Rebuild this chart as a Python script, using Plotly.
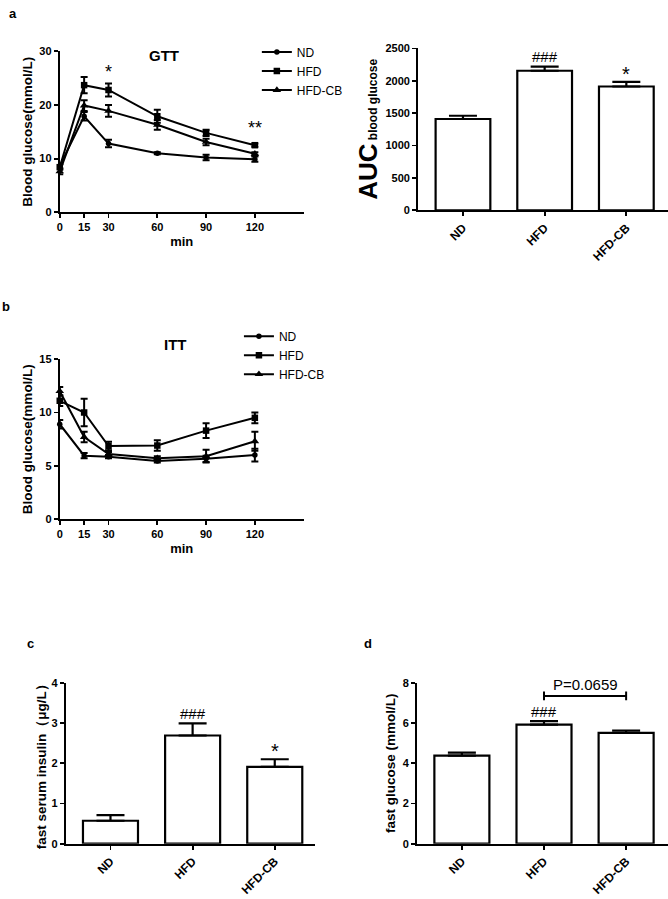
import plotly.graph_objects as go

W, H = 668, 899
FONT = "Liberation Sans, Arial, sans-serif"

# ---------------- data ----------------
time_min = [0, 15, 30, 60, 90, 120]
time_ticks = [0, 15, 30, 60, 90, 120]

gtt_nd = [8.6, 17.9, 12.8, 11.0, 10.2, 9.9]
gtt_nd_err = [0.4, 0.8, 0.7, 0.2, 0.5, 0.5]
gtt_hfd = [8.4, 23.7, 22.8, 17.9, 14.8, 12.5]
gtt_hfd_err = [0.5, 1.5, 1.2, 1.2, 0.6, 0.3]
gtt_cb = [7.6, 19.9, 18.9, 16.3, 13.1, 10.9]
gtt_cb_err = [0.5, 1.0, 1.1, 0.9, 0.6, 0.3]

itt_nd = [8.9, 5.95, 5.85, 5.45, 5.65, 6.0]
itt_nd_err = [0.4, 0.25, 0.15, 0.15, 0.3, 0.6]
itt_hfd = [11.1, 10.0, 6.85, 6.9, 8.3, 9.5]
itt_hfd_err = [0.5, 1.3, 0.4, 0.5, 0.7, 0.5]
itt_cb = [12.0, 7.7, 6.1, 5.7, 5.9, 7.3]
itt_cb_err = [0.4, 0.5, 0.2, 0.2, 0.6, 0.9]

groups = ["ND", "HFD", "HFD-CB"]
auc = [1410, 2155, 1912]
auc_err = [50, 65, 70]
insulin = [0.57, 2.69, 1.91]
insulin_err = [0.14, 0.30, 0.19]
fast_glu = [4.38, 5.92, 5.51]
fast_glu_err = [0.15, 0.18, 0.12]

series_names = ["ND", "HFD", "HFD-CB"]
series_symbols = ["circle", "square", "triangle-up"]
series_sizes = [5.5, 6.5, 7.5]

gtt_marks = [(30, 25.8, "*"), (120, 15.3, "**")]
auc_marks = ["", "###", "*"]
ins_marks = ["", "###", "*"]
glu_marks = ["", "###", ""]
p_label = "P=0.0659"
p_bracket_y = 7.35
p_bracket_tick = 0.22
p_groups = (1, 2)

# ---------------- helpers ----------------
def xd(a, b):
    return [a / W, b / W]

def yd(top, bottom):
    return [1 - bottom / H, 1 - top / H]

fig = go.Figure()

# line panels
line_panels = [
    ("x", "y", [gtt_nd, gtt_hfd, gtt_cb], [gtt_nd_err, gtt_hfd_err, gtt_cb_err], "legend"),
    ("x3", "y3", [itt_nd, itt_hfd, itt_cb], [itt_nd_err, itt_hfd_err, itt_cb_err], "legend2"),
]
for xa, ya, vals, errs, leg in line_panels:
    for name, sym, sz, v, e in zip(series_names, series_symbols, series_sizes, vals, errs):
        fig.add_trace(go.Scatter(
            x=time_min, y=v, name=name, mode="lines+markers",
            xaxis=xa, yaxis=ya, legend=leg,
            line=dict(color="black", width=2),
            marker=dict(symbol=sym, size=sz, color="black"),
            error_y=dict(type="data", array=e, color="black", thickness=2, width=3.5),
            cliponaxis=False,
        ))

# bar panels
bar_panels = [
    ("x2", "y2", auc, auc_err),
    ("x4", "y4", insulin, insulin_err),
    ("x5", "y5", fast_glu, fast_glu_err),
]
for xa, ya, v, e in bar_panels:
    fig.add_trace(go.Bar(
        x=[0, 1, 2], y=v, width=0.67, xaxis=xa, yaxis=ya, showlegend=False,
        marker=dict(color="white", line=dict(color="black", width=2.2)),
        error_y=dict(type="data", array=e, arrayminus=[0, 0, 0], color="black",
                     thickness=2.2, width=14),
        cliponaxis=False,
    ))

tickfont = dict(family=FONT, size=11, color="black", weight="bold")
cattickfont = dict(family=FONT, size=12, color="black", weight="bold")
titlefont = dict(family=FONT, size=13.5, color="black", weight="bold")
minfont = dict(family=FONT, size=13, color="black", weight="bold")

def axis_common(**kw):
    d = dict(showline=True, linecolor="black", linewidth=2, ticks="outside",
             ticklen=4, tickwidth=1.8, tickcolor="black", showgrid=False,
             zeroline=False, tickfont=tickfont, fixedrange=True)
    d.update(kw)
    return d

layout = dict(
    width=W, height=H, margin=dict(l=0, r=0, t=0, b=0),
    paper_bgcolor="white", plot_bgcolor="white",
    font=dict(family=FONT, color="black"),
    bargap=0,
)

# GTT
layout["xaxis"] = axis_common(domain=xd(57, 302), range=[0, 150], anchor="y",
                              tickvals=time_ticks,
                              title=dict(text="min", font=minfont, standoff=4))
layout["yaxis"] = axis_common(domain=yd(46, 209), range=[0, 30], anchor="x",
                              tickvals=[0, 10, 20, 30],
                              title=dict(text="Blood glucose(mmol/L)", font=titlefont, standoff=4))
# AUC
layout["xaxis2"] = axis_common(domain=xd(417, 668), range=[-0.549, 2.51], anchor="y2",
                               tickvals=[0, 1, 2], ticktext=groups, tickangle=-45,
                               tickfont=cattickfont)
layout["yaxis2"] = axis_common(domain=yd(43, 207), range=[0, 2500], anchor="x2",
                               tickvals=[0, 500, 1000, 1500, 2000, 2500],
                               title=dict(text="<span style='font-size:26px'>AUC</span><span style='font-size:12px'> blood glucose</span>",
                                          font=titlefont, standoff=5))
# ITT
layout["xaxis3"] = axis_common(domain=xd(57, 302), range=[0, 150], anchor="y3",
                               tickvals=time_ticks,
                               title=dict(text="min", font=minfont, standoff=5))
layout["yaxis3"] = axis_common(domain=yd(358, 520), range=[0, 15], anchor="x3",
                               tickvals=[0, 5, 10, 15],
                               title=dict(text="Blood glucose(mmol/L)", font=titlefont, standoff=4))
# insulin
layout["xaxis4"] = axis_common(domain=xd(63, 313), range=[-0.545, 2.485], anchor="y4",
                               tickvals=[0, 1, 2], ticktext=groups, tickangle=-45,
                               tickfont=cattickfont)
layout["yaxis4"] = axis_common(domain=yd(686, 849), range=[0, 4], anchor="x4",
                               tickvals=[0, 1, 2, 3, 4],
                               title=dict(text="fast serum insulin（μg/L）", font=titlefont, standoff=2))
# fast glucose
layout["xaxis5"] = axis_common(domain=xd(416, 668), range=[-0.545, 2.51], anchor="y5",
                               tickvals=[0, 1, 2], ticktext=groups, tickangle=-45,
                               tickfont=cattickfont)
layout["yaxis5"] = axis_common(domain=yd(686, 849), range=[0, 8], anchor="x5",
                               tickvals=[0, 2, 4, 6, 8],
                               title=dict(text="fast glucose (mmol/L)", font=titlefont, standoff=4))

legfont = dict(family=FONT, size=12, color="black")
layout["legend"] = dict(x=255 / W, y=1 - 32 / H, xanchor="left", yanchor="top",
                        font=legfont, bgcolor="rgba(0,0,0,0)", tracegroupgap=0,
                        itemwidth=30)
layout["legend2"] = dict(x=237 / W, y=1 - 320 / H, xanchor="left", yanchor="top",
                         font=legfont, bgcolor="rgba(0,0,0,0)", tracegroupgap=0,
                         itemwidth=30)

fig.update_layout(**layout)

ann = []
# panel letters
for letter, px, py in [("a", 10, 8), ("b", 3, 305), ("c", 28, 646), ("d", 367, 646)]:
    ann.append(dict(text=letter, x=px / W, y=1 - py / H, xref="paper", yref="paper",
                    xanchor="center", yanchor="middle",
                    showarrow=False, font=dict(family=FONT, size=13, weight="bold")))
# panel titles
ann.append(dict(text="GTT", x=162 / W, y=1 - 50 / H, xref="paper", yref="paper",
                xanchor="center", yanchor="middle",
                showarrow=False, font=dict(family=FONT, size=15, weight="bold")))
ann.append(dict(text="ITT", x=173 / W, y=1 - 343 / H, xref="paper", yref="paper",
                xanchor="center", yanchor="middle",
                showarrow=False, font=dict(family=FONT, size=15, weight="bold")))
# significance marks GTT
for tx, ty, t in gtt_marks:
    ann.append(dict(text=t, x=tx, y=ty, xref="x", yref="y", showarrow=False,
                    yanchor="middle", yshift=2, font=dict(family=FONT, size=18)))
# bar marks
for xa, ya, v, e, marks in [("x2", "y2", auc, auc_err, auc_marks),
                            ("x4", "y4", insulin, insulin_err, ins_marks),
                            ("x5", "y5", fast_glu, fast_glu_err, glu_marks)]:
    for i, m in enumerate(marks):
        if not m:
            continue
        big = m == "*"
        ann.append(dict(text=m, x=i, y=v[i] + e[i], xref=xa, yref=ya, showarrow=False,
                        yanchor="middle", yshift=(8 if big else 10),
                        font=dict(family=FONT, size=(20 if big else 15))))
# p-value bracket
ann.append(dict(text=p_label, x=sum(p_groups) / 2, y=p_bracket_y, xref="x5", yref="y5",
                showarrow=False, yanchor="middle", yshift=11,
                font=dict(family=FONT, size=15)))
fig.update_layout(annotations=ann)

shapes = [
    dict(type="line", xref="x5", yref="y5", x0=p_groups[0], x1=p_groups[1],
         y0=p_bracket_y, y1=p_bracket_y, line=dict(color="black", width=2)),
    dict(type="line", xref="x5", yref="y5", x0=p_groups[0], x1=p_groups[0],
         y0=p_bracket_y - p_bracket_tick, y1=p_bracket_y + p_bracket_tick, line=dict(color="black", width=2)),
    dict(type="line", xref="x5", yref="y5", x0=p_groups[1], x1=p_groups[1],
         y0=p_bracket_y - p_bracket_tick, y1=p_bracket_y + p_bracket_tick, line=dict(color="black", width=2)),
]
fig.update_layout(shapes=shapes)

fig.write_html("out.html", config={"displayModeBar": False, "staticPlot": True},
               post_script="document.body.style.margin='0';")
